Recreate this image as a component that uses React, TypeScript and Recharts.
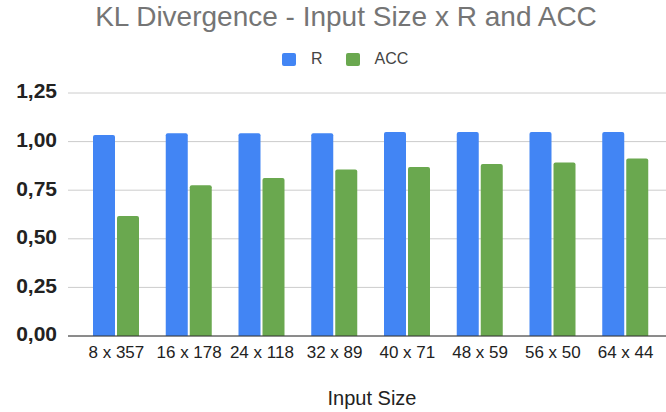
import { BarChart, Bar, XAxis, YAxis, CartesianGrid, Legend } from 'recharts';

const categories = ['8 x 357', '16 x 178', '24 x 118', '32 x 89', '40 x 71', '48 x 59', '56 x 50', '64 x 44'];
const rValues = [1.034, 1.043, 1.043, 1.043, 1.049, 1.049, 1.049, 1.049];
const accValues = [0.617, 0.775, 0.813, 0.856, 0.869, 0.885, 0.892, 0.913];
const yTicks = [0, 0.25, 0.5, 0.75, 1, 1.25];
const seriesOrder = ['R', 'ACC'];

const data = categories.map((name, i) => ({ name, R: rValues[i], ACC: accValues[i] }));

const FONT = '"Liberation Sans", Arial, sans-serif';

function LegendContent(props: any) {
  const payload = props.payload || [];
  const items = seriesOrder
    .map((key) => payload.find((p: any) => p.value === key || p.dataKey === key))
    .filter(Boolean);
  return (
    <div style={{ display: 'flex', alignItems: 'center', fontFamily: FONT, fontSize: 16, color: '#444', lineHeight: '18px' }}>
      {items.map((entry: any, i: number) => (
        <div key={entry.value} style={{ display: 'flex', alignItems: 'center', marginRight: i === 0 ? 23 : 0 }}>
          <span style={{ display: 'inline-block', width: 14, height: 13, borderRadius: 2, background: entry.color, marginRight: 15 }} />
          <span>{entry.value}</span>
        </div>
      ))}
    </div>
  );
}

export default function App() {
  const formatY = (v: number) => v.toFixed(2).replace('.', ',');

  return (
    <div style={{ position: 'absolute', left: 0, top: 0, width: 666, height: 412, background: '#fff' }}>
      <div
        style={{
          position: 'absolute',
          top: 3,
          left: 346,
          transform: 'translateX(-50%)',
          whiteSpace: 'nowrap',
          fontFamily: FONT,
          fontSize: 28,
          lineHeight: '28px',
          color: '#757575',
        }}
      >
        KL Divergence - Input Size x R and ACC
      </div>
      <BarChart
        width={666}
        height={412}
        data={data}
        margin={{ top: 93, right: 0, bottom: 0, left: 0 }}
        barSize={22}
        barGap={2}
      >
        <CartesianGrid vertical={false} stroke="#cccccc" />
        <XAxis
          dataKey="name"
          height={76}
          tickLine={false}
          tickMargin={4}
          interval={0}
          padding={{ left: 12, right: 4 }}
          axisLine={{ stroke: '#333333' }}
          tick={{ fontFamily: FONT, fontSize: 17, fill: '#222' }}
          label={{ value: 'Input Size', position: 'insideBottom', offset: 7, dx: 5, fontFamily: FONT, fontSize: 20, fill: '#222' }}
        />
        <YAxis
          width={68}
          domain={[0, 1.25]}
          ticks={yTicks}
          tickFormatter={formatY}
          axisLine={false}
          tickLine={false}
          tickMargin={5}
          tick={{ fontFamily: FONT, fontSize: 21, fontWeight: 'bold', fill: '#222', dy: -2 }}
        />
        <Legend
          layout="horizontal"
          verticalAlign="middle"
          align="center"
          content={<LegendContent />}
          wrapperStyle={{ top: 50, left: 282, width: 200 }}
        />
        <Bar dataKey="R" fill="#4285F4" radius={[2, 2, 0, 0]} isAnimationActive={false} />
        <Bar dataKey="ACC" fill="#6AA84F" radius={[2, 2, 0, 0]} isAnimationActive={false} />
      </BarChart>
    </div>
  );
}
